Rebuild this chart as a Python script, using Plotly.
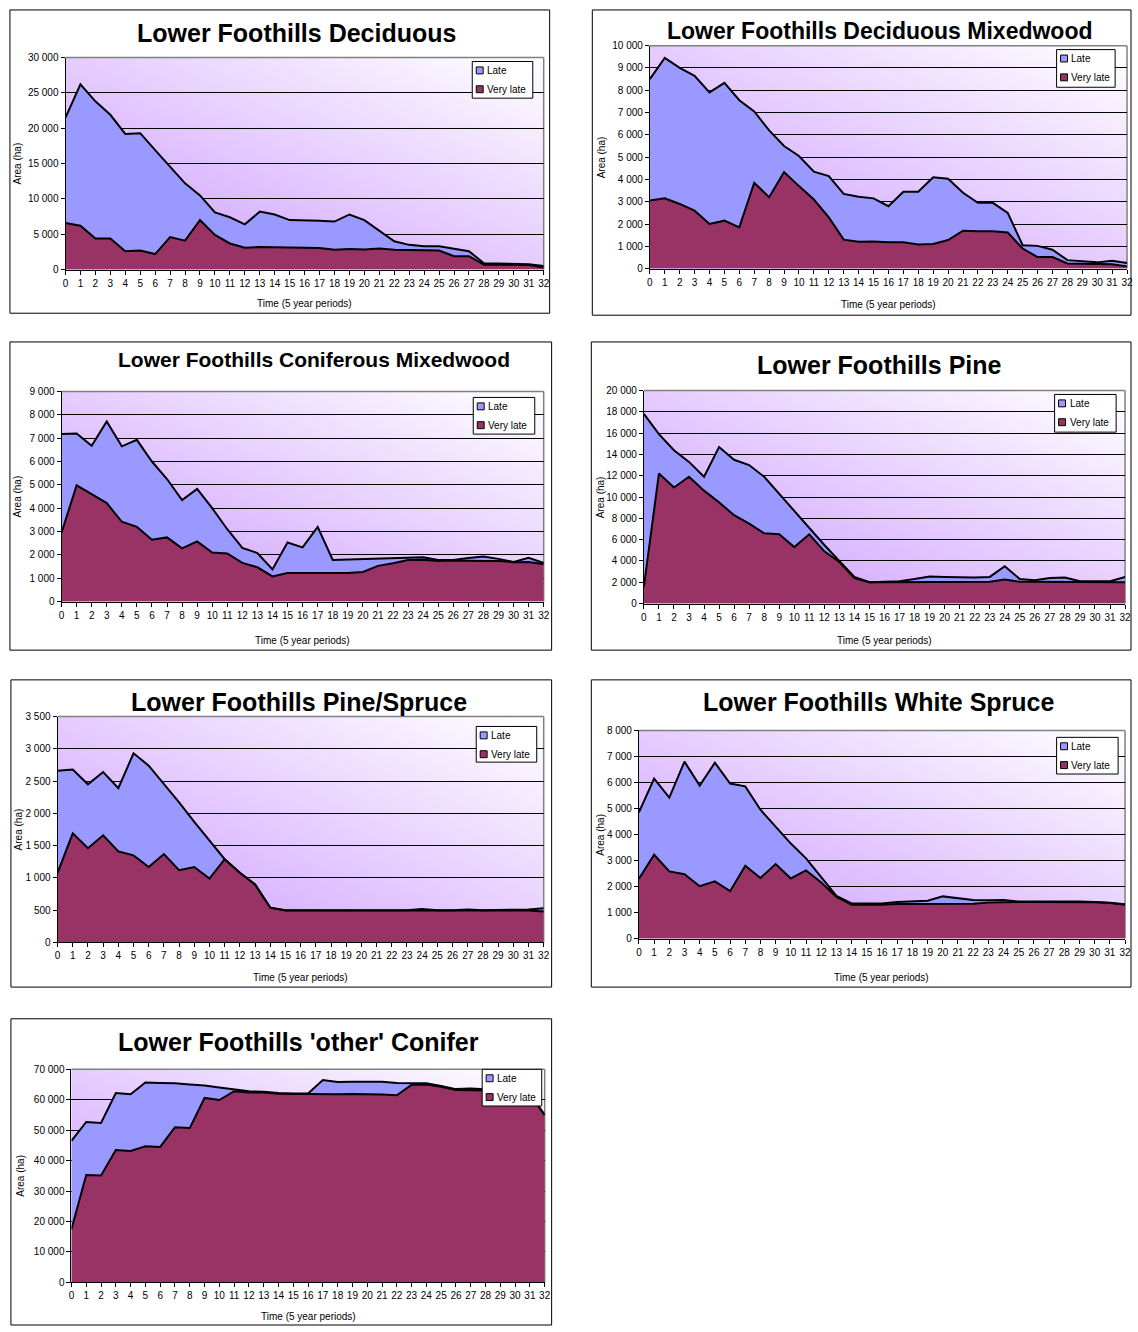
import base64
import struct
import zlib
import plotly.graph_objects as go

W, H = 1138, 1332

# ---------------- data ----------------
periods = list(range(33))
tick_labels = [str(p) for p in periods]
series_names = ["Late", "Very late"]

titles = [
    "Lower Foothills Deciduous",
    "Lower Foothills Deciduous Mixedwood",
    "Lower Foothills Coniferous Mixedwood",
    "Lower Foothills Pine",
    "Lower Foothills Pine/Spruce",
    "Lower Foothills White Spruce",
    "Lower Foothills 'other' Conifer",
]

decid_very_late = [6600, 6200, 4400, 4400, 2600, 2700, 2200, 4600, 4100, 7000, 4900, 3700, 3100, 3200, 3150, 3100,
                   3100, 3050, 2800, 2900, 2850, 3000, 2800, 2800, 2700, 2700, 1900, 1900, 700, 700, 700, 650, 300]
decid_late = [14900, 20000, 19400, 17500, 16600, 16600, 14700, 10000, 8100, 3500, 3200, 3700, 3300, 5000, 4650, 3900,
              3900, 3850, 4000, 4900, 4150, 2500, 1200, 700, 600, 600, 1100, 700, 200, 150, 100, 100, 200]

decmix_very_late = [3050, 3150, 2900, 2600, 2000, 2150, 1850, 3850, 3200, 4330, 3700, 3100, 2300, 1300, 1200, 1220,
                    1180, 1180, 1080, 1100, 1280, 1700, 1680, 1680, 1620, 900, 520, 520, 230, 230, 200, 200, 100]
decmix_late = [5450, 6300, 6100, 6050, 5900, 6180, 5700, 3200, 3000, 1170, 1350, 1250, 1850, 2050, 2020, 1930,
               1620, 2270, 2370, 3000, 2750, 1700, 1270, 1270, 880, 150, 500, 330, 150, 90, 80, 150, 150]

conmix_very_late = [2950, 4980, 4600, 4220, 3420, 3200, 2650, 2750, 2280, 2580, 2100, 2060, 1660, 1470, 1080, 1220,
                    1220, 1220, 1220, 1230, 1270, 1530, 1640, 1780, 1790, 1740, 1760, 1740, 1740, 1740, 1690, 1700, 1600]
conmix_late = [4230, 2220, 2080, 3500, 3230, 3730, 3350, 2500, 2070, 2250, 1900, 1040, 640, 610, 300, 1310,
               1100, 1980, 560, 570, 550, 320, 230, 100, 110, 40, 20, 130, 190, 90, 10, 180, 50]

pine_very_late = [1600, 12200, 10900, 11900, 10600, 9500, 8300, 7500, 6600, 6500, 5300, 6500, 4900, 3900, 2400, 2000,
                  2000, 2000, 2000, 2000, 2000, 2000, 2000, 2050, 2250, 2050, 2050, 2050, 2050, 2050, 2050, 2050, 2000]
pine_late = [16200, 3700, 3500, 1400, 1300, 5200, 5200, 5500, 5300, 3800, 3400, 500, 600, 100, 100, 0,
             50, 100, 300, 550, 500, 450, 450, 450, 1250, 250, 150, 350, 400, 50, 50, 50, 500]

pinespruce_very_late = [1080, 1690, 1460, 1660, 1410, 1350, 1170, 1370, 1120, 1170, 990, 1290, 1080, 900, 540, 495,
                        495, 495, 495, 495, 495, 495, 495, 495, 495, 495, 495, 495, 495, 495, 495, 495, 480]
pinespruce_late = [1580, 990, 990, 980, 980, 1580, 1570, 1090, 1050, 700, 590, 0, 0, 0, 0, 5,
                   5, 5, 5, 5, 15, 15, 5, 5, 25, 5, 5, 15, 5, 5, 5, 15, 50]

whitespruce_very_late = [2300, 3220, 2580, 2470, 2010, 2200, 1820, 2800, 2330, 2860, 2310, 2620, 2150, 1600, 1300, 1300,
                         1300, 1330, 1330, 1340, 1330, 1320, 1340, 1380, 1400, 1400, 1400, 1400, 1400, 1400, 1390, 1370, 1300]
whitespruce_late = [2550, 2930, 2840, 4330, 3870, 4560, 4140, 3050, 2620, 1460, 1340, 460, 230, 40, 50, 40,
                    50, 70, 90, 110, 290, 230, 140, 90, 80, 20, 20, 40, 20, 20, 10, 10, 20]

other_very_late = [17500, 35300, 35100, 43500, 43200, 44700, 44500, 51000, 50700, 60600, 59900, 62800, 62400, 62400,
                   62000, 61900, 61900, 61800, 61800, 61900, 61900, 61700, 61500, 64900, 65000, 64300, 63200, 63200,
                   63200, 63000, 62700, 61700, 55000]
other_late = [29000, 17400, 17300, 18700, 18600, 21000, 21000, 14400, 14300, 4100, 4100, 500, 400, 200, 200, 200,
              200, 4700, 4000, 4000, 4100, 4200, 4000, 500, 400, 200, 300, 500, 300, 300, 300, 300, 0]

y_max = [30000, 10000, 9000, 20000, 3500, 8000, 70000]
y_step = [5000, 1000, 1000, 2000, 500, 1000, 10000]

very_late_series = [decid_very_late, decmix_very_late, conmix_very_late, pine_very_late,
                    pinespruce_very_late, whitespruce_very_late, other_very_late]
late_series = [decid_late, decmix_late, conmix_late, pine_late,
               pinespruce_late, whitespruce_late, other_late]

# ---------------- layout geometry (pixels) ----------------
boxes = [(7, 4, 551, 310), (594, 4, 1137, 312), (7, 339, 553, 650), (593, 339, 1137, 650),
         (8, 680, 553, 990), (593, 680, 1137, 990), (8, 1022, 553, 1331)]
plots = [(63, 52, 545, 266), (652, 40, 1133, 265), (59, 389, 545, 601), (646, 388, 1131, 603),
         (55, 717, 545, 945), (641, 731, 1131, 941), (69, 1073, 546, 1288)]
title_pos = [(296, 27), (884, 25), (313, 357), (883, 362), (298, 702), (883, 702), (298, 1045)]
title_size = [25, 23, 21, 25, 25, 25, 25]
area_label_x = [15, 603, 15, 602, 16, 602, 18]
time_label_y = [300, 301, 640, 640, 980, 980, 1322]
legends = [(473, 56, 534, 93), (1062, 44, 1121, 82), (474, 395, 536, 432), (1060, 392, 1122, 430),
           (477, 727, 538, 763), (1062, 738, 1124, 775), (483, 1073, 543, 1110)]

LATE_COLOR = "#9999ff"
VLATE_COLOR = "#993366"
FONT = "Arial, 'Liberation Sans', sans-serif"


def X(px):
    return px / W


def Y(py):
    return 1 - py / H


# ---------------- gradient background image (PNG) ----------------
def gradient_png(w=240, h=120, c0=(204, 153, 255), c1=(255, 255, 255)):
    rows = []
    for j in range(h):
        v = 1 - j / (h - 1)
        row = bytearray([0])
        for i in range(w):
            u = i / (w - 1)
            t = (u + v) / 2
            row += bytes(int(round(c0[k] + (c1[k] - c0[k]) * t)) for k in range(3))
        rows.append(bytes(row))
    raw = b"".join(rows)

    def chunk(tag, data):
        c = struct.pack(">I", len(data)) + tag + data
        return c + struct.pack(">I", zlib.crc32(tag + data) & 0xffffffff)

    png = (b"\x89PNG\r\n\x1a\n" + chunk(b"IHDR", struct.pack(">IIBBBBB", w, h, 8, 2, 0, 0, 0))
           + chunk(b"IDAT", zlib.compress(raw, 9)) + chunk(b"IEND", b""))
    return "data:image/png;base64," + base64.b64encode(png).decode()


bg_src = gradient_png()

fig = go.Figure()
shapes, annotations, images = [], [], []
layout_axes = {}

for i in range(7):
    n = i + 1
    xa = "x" if n == 1 else f"x{n}"
    ya = "y" if n == 1 else f"y{n}"
    x0, y0, x1, y1 = plots[i]

    fig.add_trace(go.Scatter(x=periods, y=very_late_series[i], name=series_names[1], stackgroup=f"g{n}",
                             mode="lines", line=dict(color="black", width=2), fillcolor=VLATE_COLOR,
                             xaxis=xa, yaxis=ya, showlegend=False, hoverinfo="skip"))
    fig.add_trace(go.Scatter(x=periods, y=late_series[i], name=series_names[0], stackgroup=f"g{n}",
                             mode="lines", line=dict(color="black", width=2), fillcolor=LATE_COLOR,
                             xaxis=xa, yaxis=ya, showlegend=False, hoverinfo="skip"))

    layout_axes["xaxis" if n == 1 else f"xaxis{n}"] = dict(
        domain=[X(x0), X(x1)], anchor=ya, range=[0, 32], tickmode="array", tickvals=periods,
        ticktext=tick_labels, ticks="outside", ticklen=4, tickcolor="black", showline=True,
        linecolor="black", linewidth=1, showgrid=False, zeroline=False,
        tickfont=dict(family=FONT, size=10, color="black"), fixedrange=True)
    layout_axes["yaxis" if n == 1 else f"yaxis{n}"] = dict(
        domain=[Y(y1), Y(y0)], anchor=xa, range=[0, y_max[i]], tick0=0, dtick=y_step[i],
        tickformat=",d", ticks="outside", ticklen=4, tickcolor="black", showline=True,
        linecolor="black", linewidth=1, showgrid=True, gridcolor="black", gridwidth=1,
        zeroline=False, tickfont=dict(family=FONT, size=10, color="black"), fixedrange=True)

    # gradient plot-area background
    images.append(dict(source=bg_src, xref="paper", yref="paper", x=X(x0), y=Y(y0),
                       sizex=X(x1) - X(x0), sizey=Y(y0) - Y(y1), xanchor="left", yanchor="top",
                       sizing="stretch", layer="below"))

    # chart box
    bx0, by0, bx1, by1 = boxes[i]
    shapes.append(dict(type="rect", xref="paper", yref="paper", x0=X(bx0), x1=X(bx1), y0=Y(by1), y1=Y(by0),
                       line=dict(color="black", width=1), fillcolor="rgba(0,0,0,0)", layer="below"))
    # plot-area frame (top, right) in grey
    shapes.append(dict(type="line", xref="paper", yref="paper", x0=X(x1), x1=X(x1), y0=Y(y1), y1=Y(y0),
                       line=dict(color="#808080", width=1.5), layer="below"))
    shapes.append(dict(type="line", xref="paper", yref="paper", x0=X(x0), x1=X(x1), y0=Y(y0), y1=Y(y0),
                       line=dict(color="#808080", width=1.5), layer="above"))

    # title
    tx, ty = title_pos[i]
    annotations.append(dict(text=titles[i], xref="paper", yref="paper", x=X(tx), y=Y(ty),
                            xanchor="center", yanchor="middle", showarrow=False,
                            font=dict(family=FONT, size=title_size[i], color="black", weight="bold")))
    # axis titles
    annotations.append(dict(text="Area (ha)", xref="paper", yref="paper", x=X(area_label_x[i]),
                            y=Y((y0 + y1) / 2), xanchor="center", yanchor="middle", textangle=-90,
                            showarrow=False, font=dict(family=FONT, size=10, color="black")))
    annotations.append(dict(text="Time (5 year periods)", xref="paper", yref="paper", x=X((x0 + x1) / 2),
                            y=Y(time_label_y[i]), xanchor="center", yanchor="middle",
                            showarrow=False, font=dict(family=FONT, size=10, color="black")))

    # legend box
    lx0, ly0, lx1, ly1 = legends[i]
    shapes.append(dict(type="rect", xref="paper", yref="paper", x0=X(lx0), x1=X(lx1), y0=Y(ly1), y1=Y(ly0),
                       line=dict(color="black", width=1), fillcolor="white", layer="above"))
    for k, (label, col) in enumerate([(series_names[0], LATE_COLOR), (series_names[1], VLATE_COLOR)]):
        cy = ly0 + 9 + k * 19
        shapes.append(dict(type="rect", xref="paper", yref="paper", x0=X(lx0 + 4), x1=X(lx0 + 11),
                           y0=Y(cy + 3.5), y1=Y(cy - 3.5), line=dict(color="black", width=1),
                           fillcolor=col, layer="above"))
        annotations.append(dict(text=label, xref="paper", yref="paper", x=X(lx0 + 13), y=Y(cy),
                                xanchor="left", yanchor="middle", showarrow=False,
                                font=dict(family=FONT, size=10, color="black")))

fig.update_layout(
    width=W, height=H, margin=dict(l=0, r=0, t=0, b=0),
    paper_bgcolor="white", plot_bgcolor="rgba(0,0,0,0)",
    separators=". ", showlegend=False,
    shapes=shapes, annotations=annotations, images=images,
    **layout_axes,
)

fig.write_html(
    "out.html",
    config={"displayModeBar": False, "staticPlot": True},
    post_script="document.body.style.margin='0px';document.body.style.padding='0px';"
                "document.body.style.overflow='hidden';document.documentElement.style.overflow='hidden';",
)
